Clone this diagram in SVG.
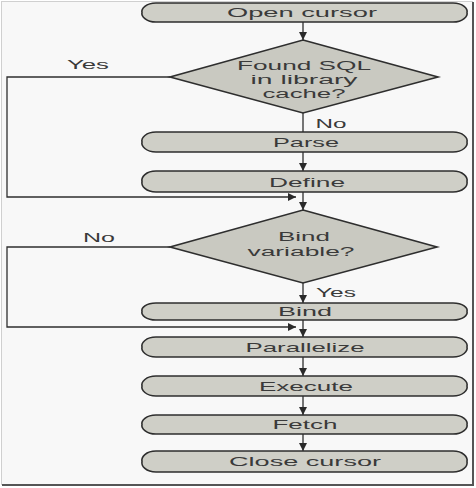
<svg xmlns="http://www.w3.org/2000/svg" width="476" height="488" viewBox="0 0 476 488">
<defs>
<marker id="ah" viewBox="0 0 10 10" refX="10" refY="5" markerWidth="8" markerHeight="8" markerUnits="userSpaceOnUse" orient="auto">
<path d="M0,0 L10,5 L0,10 Z" fill="#2a2a2a"/>
</marker>
<style>
.node{fill:#cfcfc7;stroke:#2e2e2e;stroke-width:1.6}
.dia{fill:#c9c9c1;stroke:#2e2e2e;stroke-width:1.6}
.t{font-family:"Liberation Sans",Arial,sans-serif;font-size:13px;fill:#3a3a3a;text-anchor:middle;dominant-baseline:central}
.d{font-size:12px}
.c{fill:none;stroke:#2e2e2e;stroke-width:1.3}
.ca{fill:none;stroke:#2e2e2e;stroke-width:1.3;marker-end:url(#ah)}
</style>
</defs>
<rect x="1.5" y="1.5" width="471" height="483" fill="#f8f8f8" stroke="#d0d0d0" stroke-width="1"/>
<path d="M473,2 V485 H2" fill="none" stroke="#555" stroke-width="2"/>

<g id="connectors">
<path class="ca" d="M303,22 V40"/>
<path class="c" d="M303,113 V132"/>
<path class="ca" d="M303,152 V171"/>
<path class="ca" d="M303,192 V210"/>
<path class="ca" d="M170,77 H7 V197 H296"/>
<path class="ca" d="M303,283 V303"/>
<path class="ca" d="M170,247 H7 V327 H296"/>
<path class="ca" d="M303,320 V337"/>
<path class="ca" d="M303,357 V376"/>
<path class="ca" d="M303,396 V415"/>
<path class="ca" d="M303,434 V451"/>
<text class="t" x="88" y="64" textLength="42" lengthAdjust="spacingAndGlyphs">Yes</text>
<text class="t" x="331" y="123" textLength="31" lengthAdjust="spacingAndGlyphs">No</text>
<text class="t" x="99" y="237" textLength="32" lengthAdjust="spacingAndGlyphs">No</text>
<text class="t" x="336" y="292" textLength="40" lengthAdjust="spacingAndGlyphs">Yes</text>
</g>

<g id="open-cursor">
<path class="node" d="M156,3 H453 C463,3 468,9 467,12.5 C468,16 463,22 453,22 H156 C146,22 141,16 142,12.5 C141,9 146,3 156,3 Z"/>
<text class="t" x="302" y="12.5" textLength="150" lengthAdjust="spacingAndGlyphs">Open cursor</text>
</g>

<g id="found-sql">
<path class="dia" d="M303,40 L438,77 L303,113 L170,77 Z"/>
<text class="t d" x="304" y="66" textLength="134" lengthAdjust="spacingAndGlyphs">Found SQL</text>
<text class="t d" x="304" y="80" textLength="107" lengthAdjust="spacingAndGlyphs">in library</text>
<text class="t d" x="304" y="94" textLength="83" lengthAdjust="spacingAndGlyphs">cache?</text>
</g>

<g id="parse">
<path class="node" d="M156,132 H453 C463,132 468,138 467,142 C468,146 463,152 453,152 H156 C146,152 141,146 142,142 C141,138 146,132 156,132 Z"/>
<text class="t" x="306" y="142" textLength="66" lengthAdjust="spacingAndGlyphs">Parse</text>
</g>

<g id="define">
<path class="node" d="M156,171 H453 C463,171 468,177 467,181.5 C468,186 463,192 453,192 H156 C146,192 141,186 142,181.5 C141,177 146,171 156,171 Z"/>
<text class="t" x="307" y="182" textLength="76" lengthAdjust="spacingAndGlyphs">Define</text>
</g>

<g id="bind-variable">
<path class="dia" d="M303,210 L437,247 L303,283 L170,247 Z"/>
<text class="t d" x="304" y="237" textLength="52" lengthAdjust="spacingAndGlyphs">Bind</text>
<text class="t d" x="301" y="252" textLength="107" lengthAdjust="spacingAndGlyphs">variable?</text>
</g>

<g id="bind">
<path class="node" d="M156,303 H453 C463,303 468,308 467,311.5 C468,315 463,320 453,320 H156 C146,320 141,315 142,311.5 C141,308 146,303 156,303 Z"/>
<text class="t" x="305" y="311" textLength="54" lengthAdjust="spacingAndGlyphs">Bind</text>
</g>

<g id="parallelize">
<path class="node" d="M156,337 H453 C463,337 468,343 467,347 C468,351 463,357 453,357 H156 C146,357 141,351 142,347 C141,343 146,337 156,337 Z"/>
<text class="t" x="305" y="347" textLength="119" lengthAdjust="spacingAndGlyphs">Parallelize</text>
</g>

<g id="execute">
<path class="node" d="M156,376 H453 C463,376 468,382 467,386 C468,390 463,396 453,396 H156 C146,396 141,390 142,386 C141,382 146,376 156,376 Z"/>
<text class="t" x="306" y="386" textLength="94" lengthAdjust="spacingAndGlyphs">Execute</text>
</g>

<g id="fetch">
<path class="node" d="M156,415 H453 C463,415 468,421 467,424.5 C468,428 463,434 453,434 H156 C146,434 141,428 142,424.5 C141,421 146,415 156,415 Z"/>
<text class="t" x="305" y="424.5" textLength="65" lengthAdjust="spacingAndGlyphs">Fetch</text>
</g>

<g id="close-cursor">
<path class="node" d="M156,451 H453 C463,451 468,457 467,461.5 C468,466 463,472 453,472 H156 C146,472 141,466 142,461.5 C141,457 146,451 156,451 Z"/>
<text class="t" x="305" y="461.5" textLength="152" lengthAdjust="spacingAndGlyphs">Close cursor</text>
</g>
</svg>
